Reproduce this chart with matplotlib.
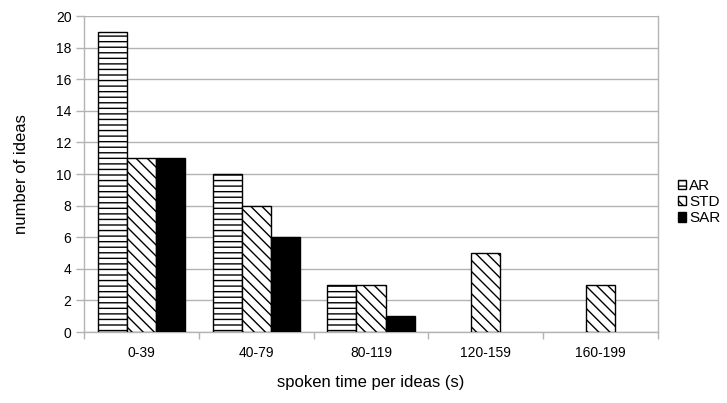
import matplotlib
matplotlib.use("Agg")
import matplotlib.pyplot as plt
import numpy as np

categories = ["0-39", "40-79", "80-119", "120-159", "160-199"]
series_names = ["AR", "STD", "SAR"]
ar = [19, 10, 3, 0, 0]
std = [11, 8, 3, 5, 3]
sar = [11, 6, 1, 0, 0]
yticks = list(range(0, 21, 2))

plt.rcParams['font.family'] = ['Liberation Sans', 'DejaVu Sans']
plt.rcParams['hatch.linewidth'] = 1.0

fig = plt.figure(figsize=(7.27, 4.03), dpi=100)
ax = fig.add_axes([84/727, 1-332/403, (658-84)/727, (332-16)/403])

x = np.arange(len(categories))
w = 0.253
styles = [dict(color="white", hatch="---"), dict(color="white", hatch="\\\\\\"), dict(color="black", hatch=None)]
for i, (vals, name, st) in enumerate(zip([ar, std, sar], series_names, styles)):
    bars = ax.bar(x + (i-1)*w, vals, width=w, facecolor=st["color"], edgecolor="black",
                  hatch=st["hatch"], linewidth=1.0, label=name, zorder=3)
    for b, v in zip(bars, vals):
        if v == 0:
            b.set_visible(False)

ax.set_xlim(-0.5, len(categories)-0.5)
ax.set_ylim(0, 20)
ax.set_yticks(yticks)
ax.set_xticks(x)
ax.set_xticklabels(categories, fontsize=10)
ax.set_xticks(np.arange(-0.5, len(categories)), minor=True)
ax.tick_params(axis='x', which='major', length=0, pad=10)
ax.tick_params(axis='x', which='minor', length=5, color="#b3b3b3", width=1)
ax.tick_params(axis='y', length=6, color="#b3b3b3", width=1, labelsize=10, pad=3)
ax.yaxis.grid(True, color="#b3b3b3", linewidth=1, zorder=0)
ax.set_axisbelow(True)
ax.spines["top"].set_visible(False)
for s in ["left", "right", "bottom"]:
    ax.spines[s].set_color("#b3b3b3")
    ax.spines[s].set_linewidth(1)

ax.set_xlabel("spoken time per ideas (s)", fontsize=12, labelpad=11)
ax.set_ylabel("number of ideas", fontsize=12, labelpad=19)

leg = ax.legend(loc="center left", bbox_to_anchor=(1.0235, 0.411), frameon=False,
                prop={'size': 11}, handlelength=0.55, handleheight=0.55, handletextpad=0.2,
                labelspacing=0.15, borderaxespad=0)

fig.savefig("out.png", dpi=100)
